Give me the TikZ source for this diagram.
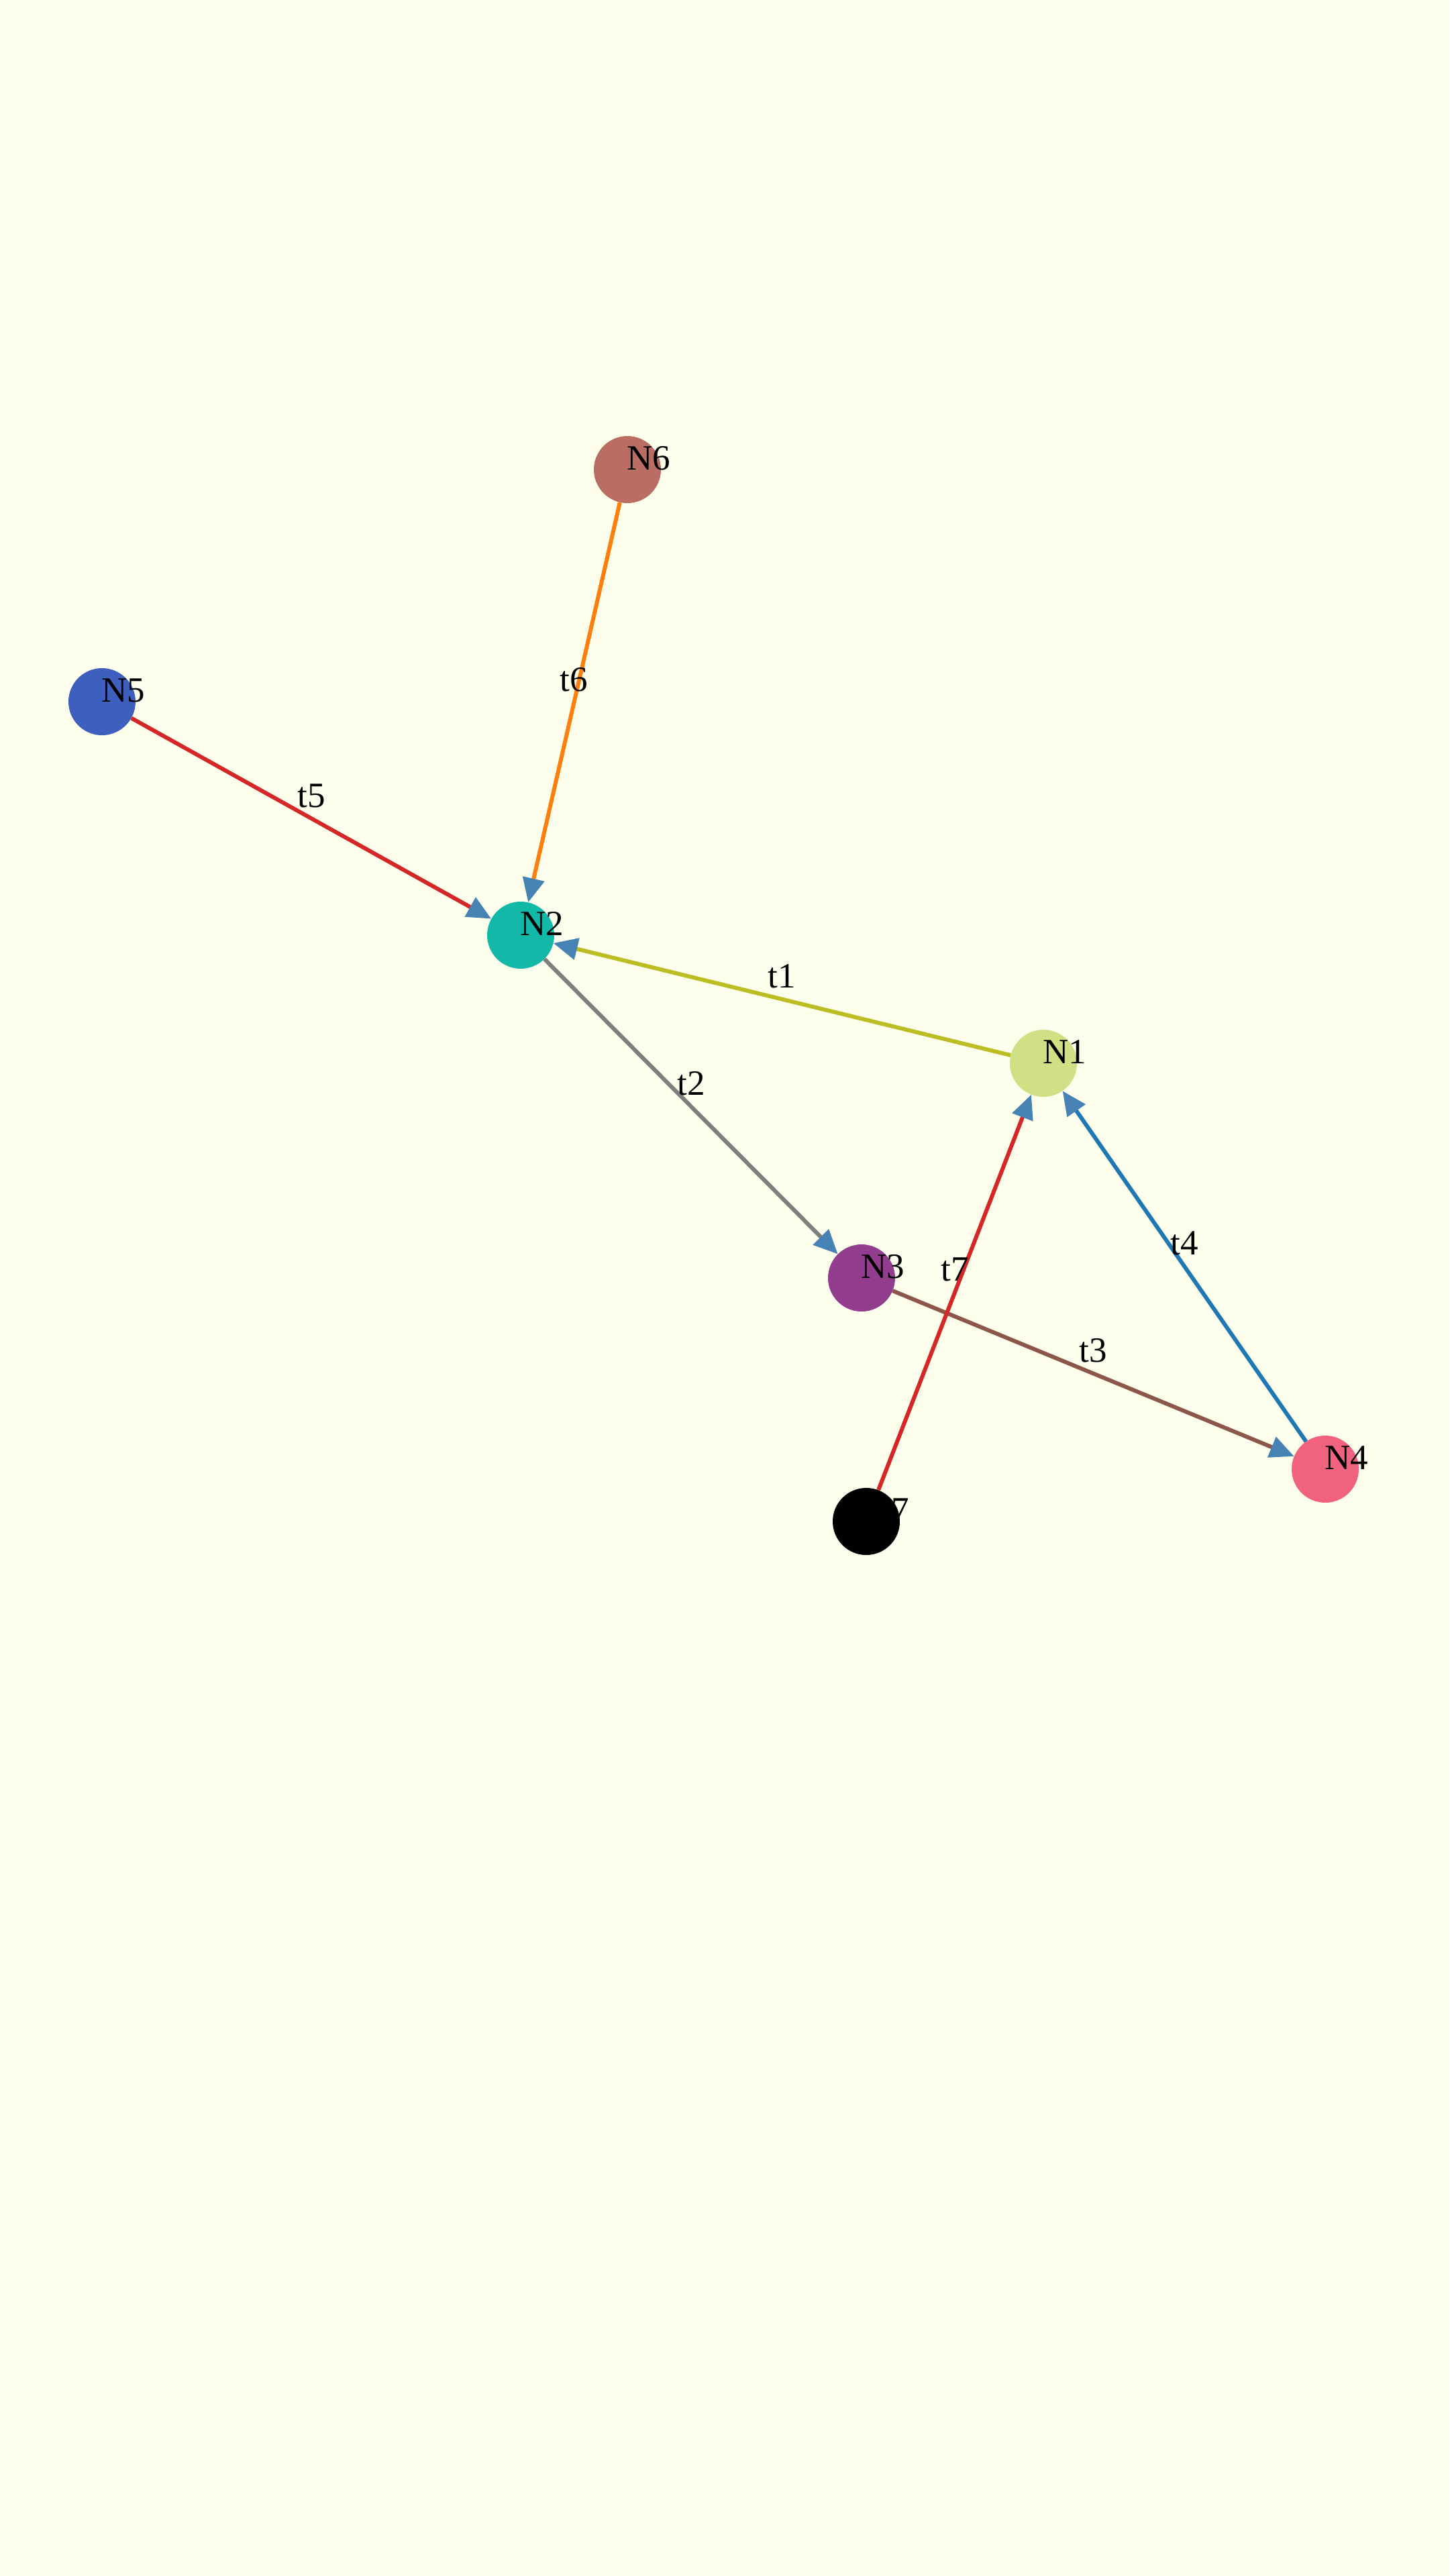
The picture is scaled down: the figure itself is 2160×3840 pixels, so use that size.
\documentclass[tikz,border=0pt]{standalone}
\usepackage{fontspec}
\setmainfont{Liberation Serif}
\usetikzlibrary{arrows.meta}
\definecolor{bgc}{HTML}{FDFFEC}
\definecolor{arrowc}{HTML}{4682B4}
\definecolor{cN1}{HTML}{D0E084}
\definecolor{cN2}{HTML}{12B8A8}
\definecolor{cN3}{HTML}{933D8F}
\definecolor{cN4}{HTML}{F0627E}
\definecolor{cN5}{HTML}{3F5FBF}
\definecolor{cN6}{HTML}{B96D63}
\definecolor{cN7}{HTML}{000000}
\definecolor{eolive}{HTML}{BCBD22}
\definecolor{egrey}{HTML}{7F7F7F}
\definecolor{ebrown}{HTML}{8C564B}
\definecolor{eblue}{HTML}{1F77B4}
\definecolor{ered}{HTML}{D62728}
\definecolor{eorange}{HTML}{FF7F0E}
\begin{document}
\begin{tikzpicture}[x=1pt,y=-1pt,
  vertex/.style={circle,inner sep=0pt,minimum size=100pt,draw=none},
  vlabel/.style={inner sep=0pt,font=\fontsize{53}{63}\selectfont,text=black},
  link/.style={line width=6pt,-{Triangle[length=36pt,width=32pt,color=arrowc]}},
  elabel/.style={midway,yshift=34pt,inner sep=0pt,font=\fontsize{53}{63}\selectfont,text=black}]
\fill[bgc] (0,0) rectangle (2160,3840);
\useasboundingbox (0,0) rectangle (2160,3840);
\node[vertex,fill=cN1] (N1) at (1555,1585) {};
\node[vertex,fill=cN2] (N2) at (776,1394) {};
\node[vertex,fill=cN3] (N3) at (1284,1905) {};
\node[vertex,fill=cN4] (N4) at (1975,2190) {};
\node[vertex,fill=cN5] (N5) at (152,1046) {};
\node[vertex,fill=cN6] (N6) at (935,700) {};
\node[vertex,fill=cN7] (N7) at (1291,2268) {};
\draw[link,draw=eolive] (N1) -- (N2) node[elabel] (L1) {t1};
\draw[link,draw=egrey] (N2) -- (N3) node[elabel] (L2) {t2};
\draw[link,draw=ebrown] (N3) -- (N4) node[elabel] (L3) {t3};
\draw[link,draw=eblue] (N4) -- (N1) node[elabel] (L4) {t4};
\draw[link,draw=ered] (N5) -- (N2) node[elabel] (L5) {t5};
\draw[link,draw=eorange] (N6) -- (N2) node[elabel] (L6) {t6};
\draw[link,draw=ered] (N7) -- (N1) node[elabel] (L7) {t7};
\foreach \n in {N1,N2,N3,N4,N5,N6,N7}{
  \node[vlabel] (T\n) at ([xshift=32pt,yshift=17pt]\n.center) {\n};
}
\end{tikzpicture}
\end{document}
